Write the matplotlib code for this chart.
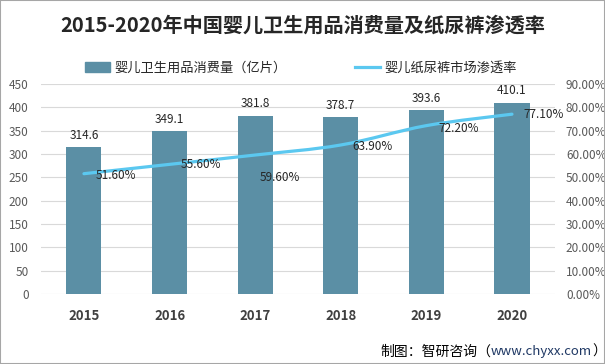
import matplotlib
matplotlib.use("Agg")
import matplotlib.pyplot as plt
from matplotlib.path import Path
from matplotlib.patches import PathPatch, Rectangle
from matplotlib.lines import Line2D
from matplotlib.text import Annotation
import numpy as np

plt.rcParams['font.family'] = ['Noto Sans CJK SC', 'DejaVu Sans']

years = ['2015', '2016', '2017', '2018', '2019', '2020']
consumption = [314.6, 349.1, 381.8, 378.7, 393.6, 410.1]
penetration = [51.6, 55.6, 59.6, 63.9, 72.2, 77.1]
title = '2015-2020年中国婴儿卫生用品消费量及纸尿裤渗透率'
bar_label = '婴儿卫生用品消费量（亿片）'
line_label = '婴儿纸尿裤市场渗透率'

bar_color = '#5B8FA5'
line_color = '#5BC8F0'
tick_color = '#595959'

fig = plt.figure(figsize=(6.05, 3.64), dpi=100)
fig.patches.append(Rectangle((0, 0), 1, 1, transform=fig.transFigure,
                             fill=False, edgecolor='#A6A6A6', lw=1.5))
ax = fig.add_axes([0.068, 0.192, 0.849, 0.577])
x = np.arange(len(years))
ax.bar(x, consumption, width=0.41, color=bar_color, zorder=2)
ax.set_ylim(0, 450)
ax.set_xlim(-0.5, len(years) - 0.5)
ax.set_yticks(np.arange(0, 451, 50))
ax.yaxis.grid(True, color='#D9D9D9', lw=0.8, zorder=0)
ax.set_axisbelow(True)
for s in ax.spines.values():
    s.set_visible(False)
ax.tick_params(axis='y', length=0, labelsize=8.5, labelcolor=tick_color, pad=9)
ax.tick_params(axis='x', length=0, labelsize=9.5, labelcolor='#404040', pad=11)
ax.set_xticks(x)
ax.set_xticklabels(years, fontweight='bold')
for xi, v in zip(x, consumption):
    ax.annotate(f'{v:.1f}', (xi, v), xytext=(0, 4), textcoords='offset points',
                ha='center', va='bottom', fontsize=8.5, color='#262626')

ax2 = ax.twinx()
ax2.set_ylim(0, 90)
ax2.set_yticks(np.arange(0, 91, 10))
ax2.set_yticklabels([f'{t:.2f}%' for t in np.arange(0, 91, 10)])
for s in ax2.spines.values():
    s.set_visible(False)
ax2.tick_params(axis='y', length=0, labelsize=8.5, labelcolor=tick_color, pad=8)

# smooth (Catmull-Rom) line through the data points
pts = np.column_stack([x, penetration]).astype(float)
verts = [tuple(pts[0])]
codes = [Path.MOVETO]
t = 1 / 6
for i in range(len(pts) - 1):
    p0 = pts[i - 1] if i > 0 else pts[i]
    p1 = pts[i]
    p2 = pts[i + 1]
    p3 = pts[i + 2] if i + 2 < len(pts) else pts[i + 1]
    c1 = p1 + (p2 - p0) * t
    c2 = p2 - (p3 - p1) * t
    verts += [tuple(c1), tuple(c2), tuple(p2)]
    codes += [Path.CURVE4] * 3
ax2.add_patch(PathPatch(Path(verts, codes), fill=False, edgecolor=line_color,
                        lw=2.3, capstyle='round', zorder=3))

offsets = [(8.5, -1), (8, 0), (3, -16), (8.5, -1), (8.5, -2), (8.5, 0)]
for xi, v, (dx, dy) in zip(x, penetration, offsets):
    ax2.annotate(f'{v:.2f}%', (xi, v), xytext=(dx, dy), textcoords='offset points',
                 ha='left', va='center', fontsize=8.5, color='#262626', zorder=4)

fig.text(0.5, 0.932, title, ha='center', va='center', fontsize=14.5,
         fontweight='bold', color='#262626')

handles = [Rectangle((0, 0), 1, 1, color=bar_color),
           Line2D([0], [0], color=line_color, lw=2.3)]
fig.legend(handles, [bar_label, line_label], loc='center', bbox_to_anchor=(0.497, 0.813),
           ncol=2, frameon=False, fontsize=9.5, columnspacing=5.2, handlelength=1.9,
           handletextpad=0.3, labelcolor='#262626')

t1 = fig.text(0.628, 0.035, '制图：智研咨询（', ha='left', va='center', fontsize=10,
              color='#000000')
a2 = fig.add_artist(Annotation('www.chyxx.com', xy=(1, 0.5), xycoords=t1,
                               xytext=(0, 0), textcoords='offset points',
                               ha='left', va='center', fontsize=9.5, color='#1F3864'))
fig.add_artist(Annotation('）', xy=(1, 0.5), xycoords=a2,
                          xytext=(0, 0), textcoords='offset points',
                          ha='left', va='center', fontsize=10, color='#000000'))

fig.savefig('out.png', dpi=100)
